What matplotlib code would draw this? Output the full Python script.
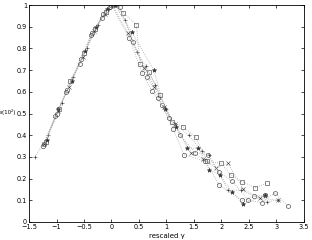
import matplotlib
matplotlib.use('Agg')
import matplotlib.pyplot as plt

# data (rescaled gamma, epsilon)
x_o = [-1.25, -1.0, -0.8, -0.55, -0.35, -0.15, 0.0, 0.32, 0.56, 0.73, 0.91, 1.12, 1.32, 1.71, 1.96, 2.38, 2.6, 2.79]
y_o = [0.35, 0.5, 0.61, 0.75, 0.87, 0.96, 1.0, 0.85, 0.685, 0.605, 0.54, 0.43, 0.31, 0.28, 0.17, 0.10, 0.12, 0.124]

x_s = [-1.2, -0.95, -0.75, -0.5, -0.3, -0.1, 0.05, 0.21, 0.45, 0.52, 0.68, 0.88, 1.1, 1.3, 1.53, 1.74, 2.0, 2.17, 2.38, 2.61, 2.82]
y_s = [0.37, 0.52, 0.65, 0.78, 0.89, 0.97, 1.0, 0.965, 0.91, 0.73, 0.69, 0.585, 0.46, 0.44, 0.39, 0.28, 0.27, 0.217, 0.186, 0.158, 0.178]

x_p = [-1.39, -1.15, -0.9, -0.7, -0.45, -0.25, -0.05, 0.1, 0.25, 0.46, 0.62, 0.8, 1.0, 1.15, 1.41, 1.64, 1.77, 2.12, 2.35, 2.82, 3.03]
y_p = [0.30, 0.40, 0.55, 0.67, 0.80, 0.91, 0.98, 1.0, 0.93, 0.785, 0.72, 0.63, 0.52, 0.45, 0.40, 0.327, 0.31, 0.147, 0.147, 0.094, 0.10]

x_x = [-1.22, -0.98, -0.78, -0.52, -0.32, -0.12, 0.02, 0.3, 0.6, 0.78, 0.95, 1.15, 1.45, 1.67, 1.9, 2.12, 2.4, 2.7, 3.03]
y_x = [0.36, 0.51, 0.62, 0.76, 0.88, 0.96, 1.0, 0.87, 0.71, 0.62, 0.53, 0.45, 0.32, 0.29, 0.25, 0.27, 0.15, 0.11, 0.10]

x_st = [-1.18, -0.97, -0.72, -0.48, -0.28, -0.08, 0.06, 0.37, 0.77, 0.97, 1.18, 1.38, 1.58, 1.78, 1.97, 2.19, 2.4, 2.79]
y_st = [0.38, 0.52, 0.65, 0.79, 0.90, 0.98, 1.0, 0.875, 0.70, 0.52, 0.44, 0.34, 0.34, 0.24, 0.217, 0.14, 0.083, 0.124]

x_h = [-1.23, -1.02, -0.82, -0.58, -0.38, -0.18, -0.02, 0.15, 0.4, 0.65, 0.85, 1.05, 1.25, 1.52, 1.76, 1.95, 2.19, 2.49, 2.73, 2.97, 3.21]
y_h = [0.36, 0.49, 0.60, 0.73, 0.86, 0.94, 0.99, 0.99, 0.83, 0.67, 0.57, 0.48, 0.40, 0.32, 0.31, 0.23, 0.19, 0.10, 0.089, 0.135, 0.074]

series = [(x_o, y_o, 'o'), (x_s, y_s, 's'), (x_p, y_p, '+'),
          (x_x, y_x, 'x'), (x_st, y_st, '*'), (x_h, y_h, 'h')]

fig = plt.figure(figsize=(3.12, 2.4), dpi=100)
ax = fig.add_axes([0.093, 0.075, 0.881, 0.904])

for xs, ys, m in series:
    ax.plot(xs, ys, linestyle=':', color='#aaaaaa', linewidth=0.6)
    filled = m in ('*',)
    ax.plot(xs, ys, linestyle='none', marker=m, markersize=3.2,
            markerfacecolor='#333333' if filled else 'none',
            markeredgecolor='#333333', markeredgewidth=0.4)

ax.set_xlim(-1.5, 3.5)
ax.set_ylim(0, 1)
ax.set_xticks([-1.5, -1, -0.5, 0, 0.5, 1, 1.5, 2, 2.5, 3, 3.5])
ax.set_xticklabels(['−1.5', '−1', '−0.5', '0', '0.5', '1', '1.5', '2', '2.5', '3', '3.5'])
ax.set_yticks([0, 0.1, 0.2, 0.3, 0.4, 0.5, 0.6, 0.7, 0.8, 0.9, 1])
ax.set_yticklabels(['0', '0.1', '0.2', '0.3', '0.4', '0.5', '0.6', '0.7', '0.8', '0.9', '1'])
ax.tick_params(direction='in', top=True, right=True, labelsize=4.7, length=2, width=0.5, pad=1.5)
for sp in ax.spines.values():
    sp.set_linewidth(0.6)

ax.set_xlabel('rescaled γ', fontsize=5, labelpad=2)
fig.text(0.0, 0.535, 'ε(10²)', fontsize=4, ha='left', va='center')

fig.savefig('out.png', dpi=100)
